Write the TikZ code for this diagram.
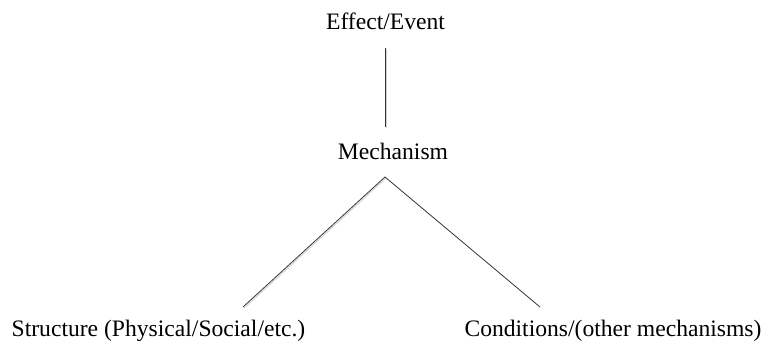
\documentclass[tikz,border=0pt]{standalone}
\usepackage{fontspec}
\setmainfont{Liberation Serif}
\begin{document}
\begin{tikzpicture}[x=1pt,y=-1pt,
  lbl/.style={anchor=base,inner sep=0pt,font=\fontsize{23.6}{28}\selectfont},
  conn/.style={draw=black!80,line width=0.8pt},
  shadowed/.style={preaction={draw=black!18,line width=0.9pt,transform canvas={shift={(1.1pt,-1.1pt)}}}}]
\useasboundingbox (0,0) rectangle (764,345);
\node[lbl] (eff) at (385.5,29.5) {Effect/Event};
\node[lbl] (mech) at (393,159) {Mechanism};
\node[lbl] (st) at (158.5,336.5) {Structure (Physical/Social/etc.)};
\node[lbl] (co) at (613,336.5) {Conditions/(other mechanisms)};
\coordinate (top) at ([shift={(-0.2pt,-18.5pt)}]eff.base);
\coordinate (mtop) at ([yshift=32pt]mech.base);
\coordinate (bot) at (top |- mtop);
\coordinate (apex) at ([shift={(-8pt,-18pt)}]mech.base);
\coordinate (lend) at ([shift={(84.5pt,29.5pt)}]st.base);
\coordinate (rend) at ([shift={(-73pt,29.5pt)}]co.base);
\draw[conn,shadowed] (top) -- (bot);
\draw[conn,shadowed] (apex) -- (lend);
\draw[conn] (apex) -- (rend);
\end{tikzpicture}
\end{document}
